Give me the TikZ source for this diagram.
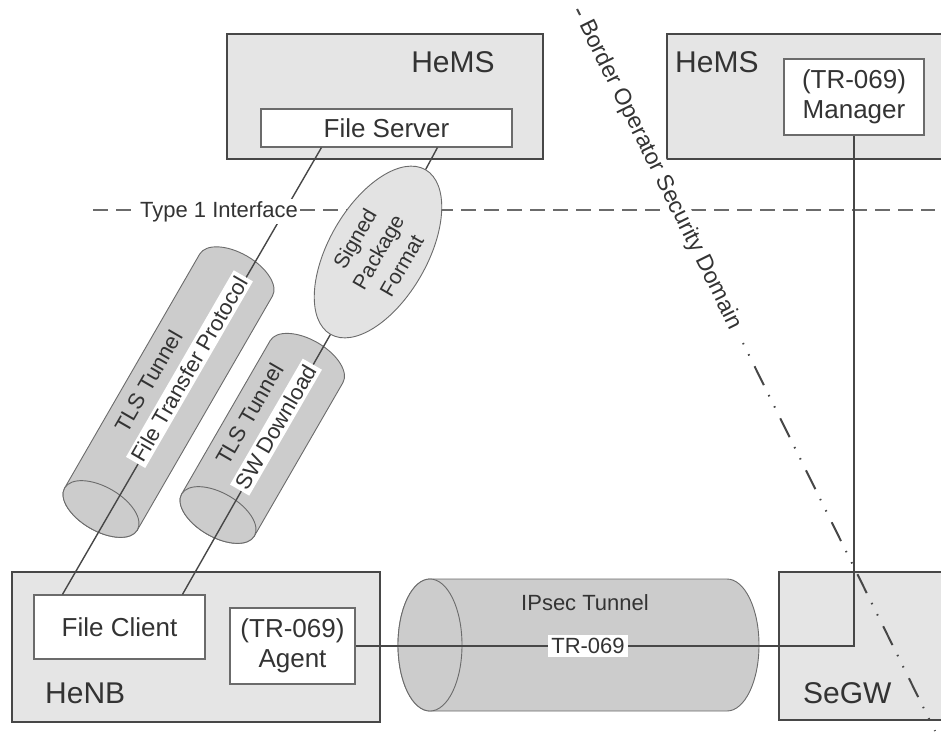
\documentclass[tikz,border=0pt]{standalone}
\usepackage{fontspec}
\setmainfont{Liberation Sans}
\usetikzlibrary{shapes.geometric}

\definecolor{ink}{gray}{0.2}
\definecolor{panel}{gray}{0.9}
\definecolor{frame}{gray}{0.28}
\definecolor{rule}{gray}{0.42}
\definecolor{tubefill}{gray}{0.8}
\definecolor{ovalfill}{gray}{0.89}

\newcommand\fsz[2]{\fontsize{#1}{#2}\selectfont}
\newcommand\onwhite[1]{{\setlength{\fboxsep}{3pt}\colorbox{white}{#1}}}

% cylinder: #1,#2 centre of the near face, #3 axis angle, #4 length,
% #5 radius, #6 half-depth of the end faces
\newcommand\drawtube[6]{%
  \begin{scope}[shift={(#1,#2)}, rotate=#3]
    \filldraw[tubeshape] (0,-#5) -- (#4,-#5)
      arc[start angle=-90, end angle=90, x radius=#6, y radius=#5]
      -- (0,#5)
      arc[start angle=90, end angle=270, x radius=#6, y radius=#5] -- cycle;
    \draw[tubeshape] (0,0) ellipse[x radius=#6, y radius=#5];
  \end{scope}}

\tikzset{
  every node/.style={inner sep=0pt, text=ink},
  panelbox/.style={draw=frame, line width=1.8pt, fill=panel},
  innerbox/.style={draw=rule, line width=1.1pt, fill=white},
  biglabel/.style={font=\fsz{30}{36}},
  boxlabel/.style={font=\fsz{26}{30}, align=center},
  smalllabel/.style={font=\fsz{22}{26}},
  tubelabel/.style={font=\fsz{22}{29.5}, align=center, rotate=60},
  taglabel/.style={font=\fsz{22}{26}, fill=white, inner xsep=3pt, inner ysep=3pt},
  tubeshape/.style={draw=rule, line width=0.9pt, fill=tubefill},
  conn/.style={draw=frame, line width=1.4pt},
  ifaceline/.style={draw=rule, line width=2pt, dash pattern=on 15pt off 8pt},
  borderline/.style={draw=frame, line width=2pt,
    dash pattern=on 1.5pt off 11pt on 1.5pt off 12pt on 21pt off 11pt},
}

\begin{document}
\begin{tikzpicture}[x=1pt, y=-1pt]
\useasboundingbox (0,0) rectangle (941,731);
\clip (0,0) rectangle (941,731);

% network elements
\node[panelbox, minimum width=316pt, minimum height=125pt] (hemsA) at (385,96.5) {};
\node[panelbox, minimum width=283pt, minimum height=125pt] (hemsB) at (808.5,96.5) {};
\node[panelbox, minimum width=368pt, minimum height=150pt] (henb) at (196,647) {};
\node[panelbox, minimum width=181pt, minimum height=148pt] (segw) at (869.5,646) {};

\node[biglabel, anchor=base] at (453,72) {HeMS};
\node[biglabel, anchor=base west] at (675,72) {HeMS};
\node[biglabel, anchor=base west] at (45,703) {HeNB};
\node[biglabel, anchor=base west] at (803,703) {SeGW};

\node[innerbox, boxlabel, minimum width=251pt, minimum height=38pt] (fs) at (386.5,128) {File Server};
\node[innerbox, boxlabel, minimum width=140pt, minimum height=76pt] (mgr) at (854,97) {(TR-069)\\Manager};
\node[innerbox, boxlabel, minimum width=171pt, minimum height=64pt] (fc) at (119.5,627) {File Client};
\node[innerbox, boxlabel, minimum width=125pt, minimum height=76pt] (agent) at (292.5,646) {(TR-069)\\Agent};

% Type 1 interface boundary
\coordinate (ifL) at (93,210);
\coordinate (ifR) at (935,210);
\draw[ifaceline] (ifL) -- (ifR);

% tunnels
\drawtube{430}{645}{0}{297}{66}{32}
\drawtube{101}{509}{60}{270}{42}{22}
\drawtube{218}{515}{60}{177}{42}{22}

% signed package
\node[ellipse, draw=rule, line width=0.9pt, fill=ovalfill,
      minimum width=190pt, minimum height=92pt, rotate=60,
      font=\fsz{21}{27}, align=center] (spf) at (378,252) {Signed\\Package\\Format};

% connections
\draw[conn] ([xshift=61pt]fs.south west) -- ([xshift=29pt]fc.north west);
\draw[conn] ([xshift=177pt]fs.south west) -- (spf.east);
\draw[conn] (spf.west) -- ([xshift=149pt]fc.north west);
\draw[conn] (mgr.south) |- (agent.east);

% labels
\node[smalllabel, fill=white, inner xsep=1pt, inner ysep=2pt, anchor=base] at (219,217) {Type 1 Interface};
\node[smalllabel] at (585,603) {IPsec Tunnel};
\node[taglabel] at (588,646) {TR-069};
\node[tubelabel] at (178,362.5) {TLS Tunnel\hspace*{62pt}\\\onwhite{File Transfer Protocol}};
\node[tubelabel] at (264.5,420.5) {TLS Tunnel\hspace*{4pt}\\\onwhite{SW Download}};

% border of the operator security domain
\draw[frame, line width=2pt] (577,9) -- (580,15);
\node[font=\fsz{23}{23}, rotate=-63.7, fill=white, inner xsep=1pt, inner ysep=2pt] at (660,175) {Border Operator Security Domain};
\draw[borderline] (743,343) -- (935,731);
\end{tikzpicture}
\end{document}
